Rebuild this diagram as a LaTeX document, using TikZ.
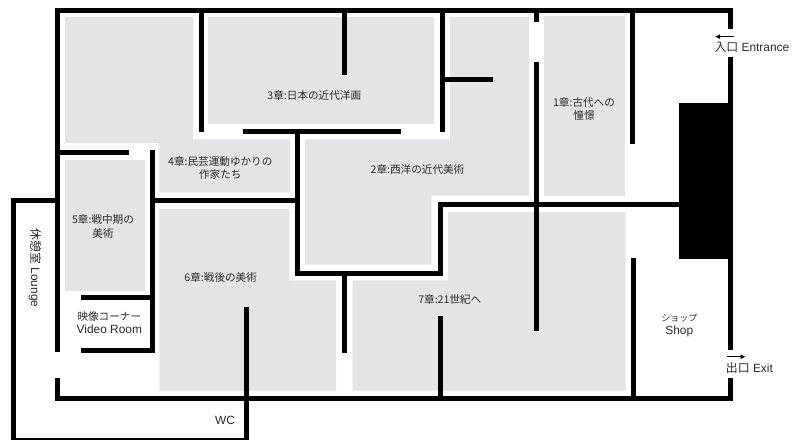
\documentclass[tikz,border=0pt]{standalone}
\usepackage{fontspec}
\setmainfont{Liberation Sans}
\newfontfamily\jp{Noto Sans CJK JP}
\definecolor{roomgrey}{HTML}{E3E4E6}
\definecolor{labelink}{HTML}{2A2A2A}
\tikzset{
  room/.style={fill=roomgrey,draw=none},
  wall/.style={draw=black,line width=5pt,line cap=butt,line join=miter},
  label/.style={text=labelink,font=\jp\fontsize{10.6}{13.4}\selectfont,align=center,inner sep=0pt},
  latin/.style={text=labelink,font=\fontsize{11.9}{13.4}\selectfont,align=center,inner sep=0pt},
  flow/.style={draw=black,line width=1pt,-{Latex[length=5pt,width=5pt]}}
}
\usetikzlibrary{arrows.meta}
\begin{document}
\begin{tikzpicture}[x=1pt,y=-1pt]
\useasboundingbox (0,0) rectangle (802,439);
\clip (0,0) rectangle (802,439);
% rooms
\fill[room] (65,17) -- (193,17) -- (193,139.3) -- (290,139.3) -- (290,192.3) -- (159.3,192.3) -- (159.3,143) -- (65,143) -- cycle;
\fill[room] (208,17) rectangle (434,124);
\fill[room] (450,17) -- (529,17) -- (529,195.7) -- (431.7,195.7) -- (431.7,264.7) -- (305,264.7) -- (305,139.3) -- (450,139.3) -- cycle;
\fill[room] (544,16) rectangle (625,195.7);
\fill[room] (65,160) rectangle (145,290.7);
\fill[room] (159.3,209) -- (289.3,209) -- (289.3,280.3) -- (336,280.3) -- (336,390.7) -- (159.3,390.7) -- cycle;
\fill[room] (448,212) -- (625.7,212) -- (625.7,390.7) -- (352.7,390.7) -- (352.7,280.3) -- (448,280.3) -- cycle;
% stair block
\fill[black] (678.7,103) rectangle (732.5,259);
% outer walls
\draw[wall] (57,352) -- (57,10) -- (730,10) -- (730,29);
\draw[wall] (730,57) -- (730,350);
\draw[wall] (730,378) -- (730,398) -- (57,398) -- (57,378);
\draw[wall] (57,200.5) -- (13,200.5) -- (13,440.7) -- (246.5,440.7) -- (246.5,307);
% inner walls
\draw[wall] (201,10) -- (201,131.5);
\draw[wall] (344.7,10) -- (344.7,75);
\draw[wall] (442.3,10) -- (442.3,131.7);
\draw[wall] (442.3,79.7) -- (492.7,79.7);
\draw[wall] (536.3,10) -- (536.3,22);
\draw[wall] (536.3,62) -- (536.3,331);
\draw[wall] (632.5,10) -- (632.5,144);
\draw[wall] (242.7,131.5) -- (400.5,131.5);
\draw[wall] (297.7,131.5) -- (297.7,273) -- (440,273) -- (440,204) -- (679,204);
\draw[wall] (344.7,273) -- (344.7,352.7);
\draw[wall] (440,316) -- (440,398);
\draw[wall] (633.3,258) -- (633.3,398);
\draw[wall] (57,152) -- (129.3,152);
\draw[wall] (152,149.7) -- (152,352);
\draw[wall] (152,200.5) -- (297.7,200.5);
\draw[wall] (81.3,297.3) -- (152,297.3);
\draw[wall] (81.3,350) -- (154.5,350);
% labels
\node[label] (ch3) at (314.3,95) {3章:日本の近代洋画};
\node[label] (ch4) at (220.3,168) {4章:民芸運動ゆかりの\\作家たち};
\node[label] (ch2) at (417.5,169) {2章:西洋の近代美術};
\node[label] (ch1) at (584,109) {1章:古代への\\憧憬};
\node[label] (ch5) at (103,226.5) {5章:戦中期の\\美術};
\node[label] (ch6) at (220.7,277) {6章:戦後の美術};
\node[label] (ch7) at (449.8,299) {7章:21世紀へ};
\node[label] (video) at (109.3,316) {映像コーナー};
\node[latin] (videoen) at (109.3,329) {Video Room};
\node[latin,rotate=-90] (lounge) at (35,268) {{\jp 休憩室} Lounge};
\node[latin] (wc) at (225,420) {WC};
\node[label,font=\jp\fontsize{9}{13}\selectfont] (shop) at (679.3,317.7) {ショップ};
\node[latin] (shopen) at (679.3,331) {Shop};
\node[latin,anchor=west] (entrance) at (714.3,47) {{\jp 入口} Entrance};
\node[latin,anchor=west] (exit) at (725.7,368) {{\jp 出口} Exit};
% direction arrows
\coordinate (entA) at (733.5,36.7);
\coordinate (entB) at (715,36.7);
\coordinate (exA) at (726.7,356.7);
\coordinate (exB) at (745.7,356.7);
\draw[flow] (entA) -- (entB);
\draw[flow] (exA) -- (exB);
\end{tikzpicture}
\end{document}
